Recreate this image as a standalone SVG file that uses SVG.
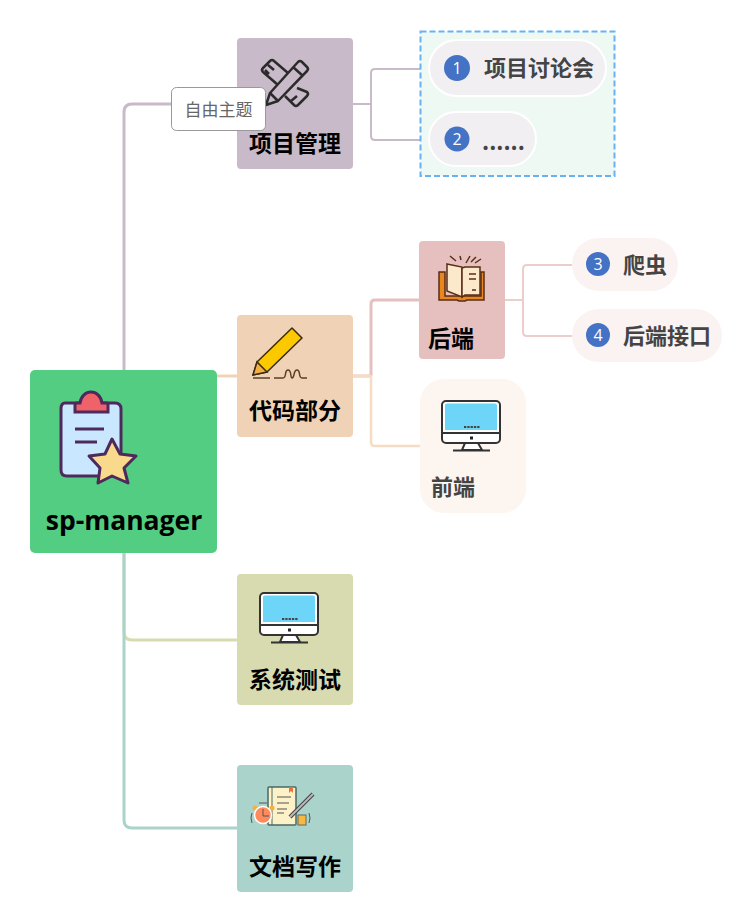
<svg xmlns="http://www.w3.org/2000/svg" width="753" height="922" viewBox="0 0 753 922">
<style>
.t{font-family:"Noto Sans CJK SC","Noto Sans",sans-serif;font-weight:700}
.m{font-size:23px;fill:#000;text-anchor:middle}
.s{font-size:22px;fill:#444}
.c{fill:none;stroke-linejoin:round}
.n{fill:#4472c4}
.d{font-family:"Open Sans","Liberation Sans",sans-serif;font-size:16px;fill:#fff;text-anchor:middle}
</style>
<defs>
<g id="mon">
<rect x="1" y="1" width="58" height="42" rx="4" fill="#fff" stroke="#333" stroke-width="2"/>
<path d="M4 5Q4 3.500 6 3.500H54Q56 3.500 56 5.500V30H4Z" fill="#6dd5f7"/>
<path d="M1 33H59" stroke="#333" stroke-width="2"/>
<path d="M23 27H39" stroke="#444" stroke-width="2" stroke-dasharray="2.300 1"/>
<rect x="29" y="36.500" width="3" height="3" fill="#222"/>
<path d="M24 43L21 50H41L37 43Z" fill="#fff" stroke="#333" stroke-width="2"/>
<path d="M12 50.500H49" stroke="#333" stroke-width="2"/>
</g>
</defs>
<rect width="753" height="922" fill="#fff"/>
<g id="connectors" class="c">
<path d="M124 370V112Q124 104 132 104H237" stroke="#c8bac8" stroke-width="3"/>
<path d="M124 553V632Q124 640 132 640H237" stroke="#d8dbb0" stroke-width="3"/>
<path d="M124 553V820Q124 828 132 828H237" stroke="#a9d3cb" stroke-width="3"/>
<path d="M217 376H237" stroke="#f0d3b6" stroke-width="3"/>
<path d="M353 104H371M428 69H375Q371 69 371 73V136Q371 140 375 140H428" stroke="#c8bac8" stroke-width="2"/>
<path d="M353 376H371M371 376V304Q371 300 375 300H419" stroke="#e6c0bf" stroke-width="3"/>
<path d="M353 376H371V442Q371 446 375 446H420" stroke="#f5dcc3" stroke-width="2.500"/>
<path d="M505 300H523M572 265H527Q523 265 523 269V332Q523 336 527 336H572" stroke="#ebcdcb" stroke-width="2"/>
</g>
<g id="group-box"><rect x="420.500" y="31.500" width="194" height="144.500" fill="#eef9f4" stroke="#66b2f5" stroke-width="2" stroke-dasharray="6 3"/></g>
<g id="root">
<rect x="30" y="370" width="187" height="183" rx="5" fill="#52cd82"/>
<path d="M65 403H115Q121 403 121 409V470Q121 476 115 476H67Q61 476 61 470V409Q61 403 65 403Z" fill="#c9e8ff" stroke="#4e2a5c" stroke-width="3"/>
<path d="M75 412V405Q75 403 77 403H80C81 396 86 392 91 392S101 396 102 403H106Q108 403 108 405V412Z" fill="#f0626a" stroke="#4e2a5c" stroke-width="3"/>
<path d="M75 429H104M75 442H97" stroke="#4e2a5c" stroke-width="3" fill="none"/>
<path d="M112 439L120 454L136 456L124 468L128 483L112 476L98 483L100 468L89 456L105 454Z" fill="#f9d98c" stroke="#4e2a5c" stroke-width="3" stroke-linejoin="round"/>
<text x="124" y="530" text-anchor="middle" style="font-family:'Open Sans','Noto Sans',sans-serif;font-weight:700;font-size:26.500px;fill:#000">sp-manager</text>
</g>
<g id="topic-xiangmu">
<rect x="237" y="38" width="116" height="131" rx="4" fill="#c8bac8"/>
<g fill="none" stroke="#2b2b2b" stroke-width="2.500" stroke-linejoin="round">
<path d="M266 105L270 93L298 62Q300 60 302 62L307 67Q309 69 307 71L278 101Z"/>
<path d="M270 93L278 101M293 67L303 76"/>
<path d="M288 73L274 61Q272 59 270 61L263 68Q261 70 263 72L278 85M268 65L274 70M265 70L269 74"/>
<path d="M297 88L307 92Q309 94 307 96L298 105Q296 107 294 105L285 96M291 101L297 96"/>
</g>
<text class="t m" x="295" y="152">项目管理</text>
</g>
<g id="callout">
<rect x="171.500" y="87.500" width="94" height="43" rx="5" fill="#fff" stroke="#999" stroke-width="1"/>
<text x="218.500" y="115.500" text-anchor="middle" style="font-family:'Noto Sans CJK SC',sans-serif;font-size:17px;fill:#666">自由主题</text>
</g>
<g id="sub-taolun">
<rect x="429" y="40" width="177" height="56" rx="28" fill="#f2eff3" stroke="#fff" stroke-width="2"/>
<circle class="n" cx="457" cy="68" r="13"/><text class="d" x="457" y="74">1</text>
<text class="t s" x="484" y="76">项目讨论会</text>
</g>
<g id="sub-dots">
<rect x="429" y="112" width="107" height="54" rx="27" fill="#f2eff3" stroke="#fff" stroke-width="2"/>
<circle class="n" cx="457" cy="139" r="12.500"/><text class="d" x="457" y="145">2</text>
<text class="t s" x="482" y="150">......</text>
</g>
<g id="topic-daima">
<rect x="237" y="315" width="116" height="122" rx="4" fill="#f0d3b6"/>
<path d="M253 375L257 362L292 328L302 338L267 372Z" fill="#fcc800" stroke="#3a2a10" stroke-width="1.500" stroke-linejoin="round"/>
<path d="M253 375L257 362L267 372Z" fill="#f5b041" stroke="#3a2a10" stroke-width="1.500"/>
<path d="M253 378H270M274 378H283C287 378 284 370 288 370S290 378 292 378C295 378 293 370 297 370S298 378 302 378H307" fill="none" stroke="#5a4020" stroke-width="1.500"/>
<text class="t m" x="295" y="419">代码部分</text>
</g>
<g id="node-houduan">
<rect x="419" y="241" width="86" height="118" rx="4" fill="#e6c0bf"/>
<path d="M439 272H445V296H481V272H484V300H467L465 301H459L457 300H439Z" fill="#e8871e" stroke="#5a2d16" stroke-width="1.500"/>
<path d="M447 264L462 267V297L447 291Z" fill="#fce9cc" stroke="#5a2d16" stroke-width="1.500"/>
<path d="M462 268L465 267H480V295H465L462 297Z" fill="#fce9cc" stroke="#5a2d16" stroke-width="1.500"/>
<path d="M469 274H476M469 279H476M472 290H476M450 256L456 261M460 256L461 260M466 263L470 256M471 262L476 257M475 263L481 259" fill="none" stroke="#5a2d16" stroke-width="1.500"/>
<text x="428" y="347" style="font-family:'Noto Sans CJK SC',sans-serif;font-weight:700;font-size:23px;fill:#000">后端</text>
</g>
<g id="sub-pachong">
<rect x="572" y="238" width="106" height="53" rx="26.500" fill="#faf3f2"/>
<circle class="n" cx="598" cy="264" r="12"/><text class="d" x="598" y="270">3</text>
<text class="t s" x="623" y="273">爬虫</text>
</g>
<g id="sub-jiekou">
<rect x="572" y="309" width="150" height="53" rx="26.500" fill="#faf3f2"/>
<circle class="n" cx="598" cy="335" r="12"/><text class="d" x="598" y="341">4</text>
<text class="t s" x="623" y="344">后端接口</text>
</g>
<g id="node-qianduan">
<rect x="420" y="379" width="106" height="134" rx="24" fill="#fdf5f0"/>
<use href="#mon" x="441" y="400"/>
<text x="431" y="495" style="font-family:'Noto Sans CJK SC',sans-serif;font-weight:700;font-size:22px;fill:#444">前端</text>
</g>
<g id="topic-ceshi">
<rect x="237" y="574" width="116" height="131" rx="4" fill="#d8dbb0"/>
<use href="#mon" x="259" y="592"/>
<text class="t m" x="295" y="688">系统测试</text>
</g>
<g id="topic-wendang">
<rect x="237" y="765" width="116" height="127" rx="4" fill="#a9d3cb"/>
<rect x="268" y="787" width="28" height="38" rx="1" fill="#fdf1c7" stroke="#4a6a68" stroke-width="1.500"/>
<path d="M272 787V825" stroke="#4a6a68" stroke-width="1"/>
<path d="M289 787V793L291 791L293 793V787Z" fill="#e8743b"/>
<path d="M277 797H291M277 803H289M277 809H287M277 813H284" stroke="#555" stroke-width="1"/>
<path d="M290 817L313 794" stroke="#444" stroke-width="4"/><path d="M290 817L313 794" stroke="#bbb" stroke-width="2"/>
<circle cx="255" cy="808" r="2.500" fill="#f5b041"/><circle cx="272" cy="808" r="2.500" fill="#f5b041"/>
<circle cx="263" cy="815" r="8.500" fill="#ff8a5c" stroke="#fff" stroke-width="1.500"/>
<path d="M263 809V816H269M259 803H267M252 813Q250 818 252 823M309 813Q311 818 309 823" stroke="#555" stroke-width="1" fill="none"/>
<rect x="298" y="815" width="8" height="10" fill="#f5b93f" stroke="#666" stroke-width="1"/>
<text class="t m" x="295" y="875">文档写作</text>
</g>
</svg>
